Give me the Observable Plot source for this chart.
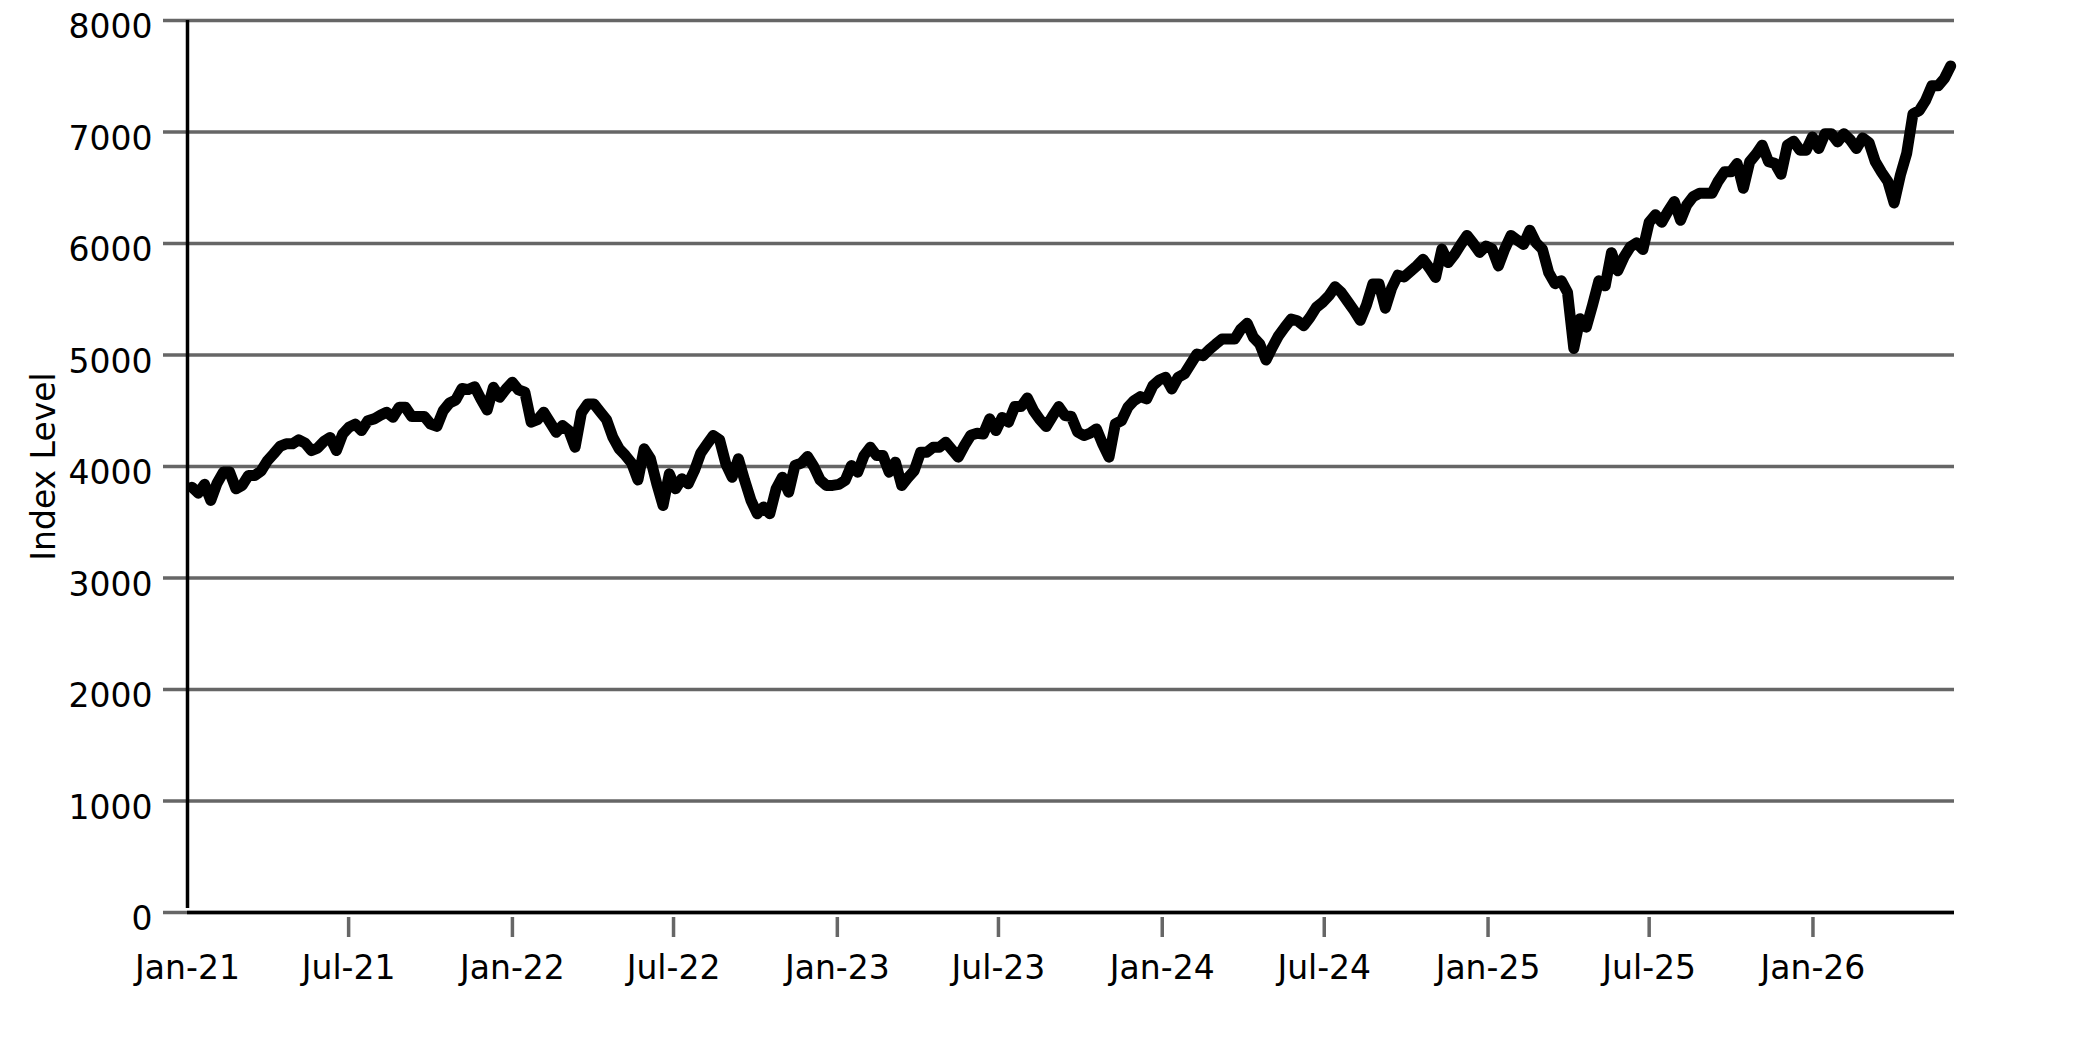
<!DOCTYPE html>
<html>
<head>
<meta charset="utf-8">
<script src="https://cdn.jsdelivr.net/npm/d3@7"></script>
<script src="https://cdn.jsdelivr.net/npm/@observablehq/plot@0.6"></script>
<style>
  html, body { margin: 0; padding: 0; background: #fff; overflow: hidden; }
</style>
</head>
<body>
<div id="chart"></div>
<script>
// Index levels sampled roughly weekly, first observation 2021-01-06
const firstDate = "2021-01-06";
const stepDays = 7.056;
const values2021 = [3815,3761,3840,3696,3850,3950,3950,3800,3830,3920,3920,3960,4050,4113,4180,4203,4203,4240,4210,4143,4165,4225,4260,4143,4292,4352,4380,4322,4410,4427,4460,4487,4442,4531,4531,4448,4448,4448,4380,4360,4500,4570,4597,4700,4690,4716,4606,4507,4710,4621,4695,4755];
const values2022 = [4687,4666,4397,4420,4487,4397,4307,4367,4322,4173,4480,4561,4561,4490,4420,4263,4160,4100,4030,3880,4158,4069,3845,3651,3934,3800,3890,3845,3964,4120,4200,4278,4240,4024,3904,4069,3875,3696,3576,3636,3576,3800,3904,3770,4009,4030,4090,4000,3880,3830,3830,3840];
const values2023 = [3875,4009,3949,4099,4173,4099,4099,3949,4039,3830,3900,3964,4128,4128,4173,4173,4218,4150,4084,4190,4280,4298,4292,4427,4322,4440,4397,4537,4537,4615,4500,4420,4358,4450,4537,4457,4448,4310,4278,4300,4337,4200,4084,4382,4412,4531,4591,4627,4606,4725,4776,4800];
const values2024 = [4695,4800,4830,4919,5009,4994,5050,5098,5143,5143,5143,5233,5284,5158,5098,4955,5069,5173,5250,5322,5307,5263,5337,5427,5472,5531,5612,5560,5480,5400,5311,5450,5636,5636,5420,5600,5716,5700,5750,5800,5858,5780,5696,5950,5829,5900,5990,6072,6000,5920,5977,5950];
const values2025 = [5799,5950,6072,6030,5992,6119,6006,5950,5740,5640,5666,5562,5059,5326,5250,5450,5666,5620,5918,5755,5880,5970,6006,5947,6190,6258,6190,6290,6376,6208,6347,6420,6450,6450,6450,6560,6643,6643,6717,6495,6732,6800,6882,6734,6719,6621,6882,6917,6837,6837,6956,6852];
const values2026 = [6985,6985,6911,6985,6930,6852,6947,6905,6734,6639,6556,6364,6615,6808,7163,7192,7281,7414,7414,7480,7592];

const yTicks = [0,1000,2000,3000,4000,5000,6000,7000,8000];
const xTickDates = ["2021-01-01","2021-07-01","2022-01-01","2022-07-01","2023-01-01","2023-07-01","2024-01-01","2024-07-01","2025-01-01","2025-07-01","2026-01-01"];
const xTickLabels = ["Jan-21","Jul-21","Jan-22","Jul-22","Jan-23","Jul-23","Jan-24","Jul-24","Jan-25","Jul-25","Jan-26"];
const xDomain = ["2021-01-01","2026-06-09"];
const yLabel = "Index Level";

const allValues = [...values2021, ...values2022, ...values2023, ...values2024, ...values2025, ...values2026];
const start = new Date(firstDate + "T00:00:00Z");
const DAY = 864e5;
const data = allValues.map((v, i) => ({date: new Date(+start + i * stepDays * DAY), value: v}));
const tickDates = xTickDates.map(s => new Date(s + "T00:00:00Z"));
const labelOf = new Map(tickDates.map((d, i) => [+d, xTickLabels[i]]));
const domain = xDomain.map(s => new Date(s + "T00:00:00Z"));

const gray = "#666666";
const fs = 33;

const chart = Plot.plot({
  width: 2083,
  height: 1042,
  marginLeft: 187,
  marginRight: 129,
  marginTop: 20,
  marginBottom: 130,
  style: {fontFamily: "DejaVu Sans", fontSize: fs + "px", background: "#fff", color: "#000"},
  x: {type: "utc", domain: domain, label: null},
  y: {domain: [0, 8000], label: null},
  marks: [
    Plot.gridY(yTicks, {stroke: gray, strokeOpacity: 1, strokeWidth: 3.5}),
    Plot.axisY(yTicks, {tickSize: 24, stroke: gray, strokeWidth: 3.5, label: null, tickFormat: () => ""}),
    Plot.axisY(yTicks, {tickSize: 0, tickPadding: 35, fontSize: fs, fill: "#000", dy: 7, label: null, tickFormat: d => String(d)}),
    Plot.axisX(tickDates.slice(1), {tickSize: 20, dy: 5, stroke: gray, strokeWidth: 3.5, label: null, tickFormat: () => ""}),
    Plot.axisX(tickDates, {tickSize: 0, tickPadding: 43, fontSize: fs, fill: "#000", label: null, tickFormat: d => labelOf.get(+d)}),
    Plot.ruleX([domain[0]], {y1: 0, y2: 8000, insetTop: -4, stroke: "#000", strokeWidth: 3.5}),
    Plot.ruleY([0], {stroke: "#000", strokeWidth: 3.5}),
    Plot.text([yLabel], {frameAnchor: "left", dx: -143, rotate: -90, textAnchor: "middle", lineAnchor: "middle", fontSize: fs, fill: "#000", text: d => d}),
    Plot.lineY(data, {x: "date", y: "value", stroke: "#000", strokeWidth: 11, strokeLinejoin: "round", strokeLinecap: "round"})
  ]
});
document.getElementById("chart").appendChild(chart);
</script>
</body>
</html>
